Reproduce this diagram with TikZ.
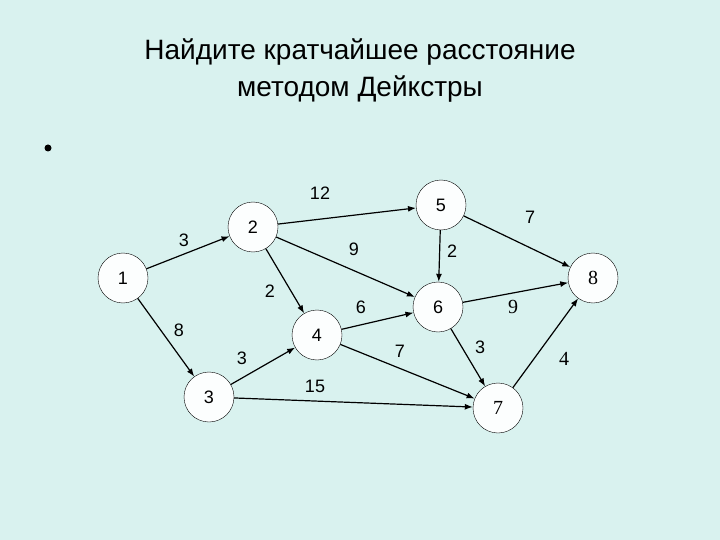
\documentclass[tikz,border=0pt]{standalone}
\usepackage{fontspec}
\setmainfont{Liberation Sans}
\newfontfamily\numserif{Liberation Serif}
\usetikzlibrary{arrows.meta}
\definecolor{slidebg}{RGB}{217,242,239}

\begin{document}
\begin{tikzpicture}[x=1pt,y=-1pt,
    vertex/.style={circle,draw,thin,fill=white!92!slidebg,minimum size=50pt,inner sep=0pt,font=\fontsize{18}{18}\selectfont},
    arc/.style={-{Latex[length=8pt,width=6pt]},line width=1.2pt},
    wlabel/.style={inner sep=0pt,font=\fontsize{18}{18}\selectfont},
    serifnum/.style={font=\fontsize{20}{20}\numserif}]
        \fill[slidebg] (0,0) rectangle (720,540);
        \node[font=\fontsize{28}{37}\selectfont,align=center] (title) at (360,71) {Найдите кратчайшее расстояние\\методом Дейкстры};
        \fill (48,148) circle (3.5pt);
        % vertices
        \node[vertex] (v1) at (123,278) {1};
        \node[vertex] (v2) at (253,227) {2};
        \node[vertex] (v3) at (209,397) {3};
        \node[vertex] (v4) at (317,335) {4};
        \node[vertex] (v5) at (441,205) {5};
        \node[vertex] (v6) at (438,307) {6};
        \node[vertex,serifnum] (v7) at (498,408) {7};
        \node[vertex,serifnum] (v8) at (593,278) {8};
        % arcs
        \draw[arc] (v1)--(v2);
        \draw[arc] (v1)--(v3);
        \draw[arc] (v2)--(v5);
        \draw[arc] (v2)--(v6);
        \draw[arc] (v2)--(v4);
        \draw[arc] (v3)--(v4);
        \draw[arc] (v3)--(v7);
        \draw[arc] (v4)--(v6);
        \draw[arc] (v4)--(v7);
        \draw[arc] (v5)--(v6);
        \draw[arc] (v5)--(v8);
        \draw[arc] (v6)--(v8);
        \draw[arc] (v6)--(v7);
        \draw[arc] (v7)--(v8);
        % weights
        \node[wlabel] (w12) at (184,240) {3};
        \node[wlabel] (w13) at (179,330) {8};
        \node[wlabel] (w25) at (320,193) {12};
        \node[wlabel] (w26) at (354,249) {9};
        \node[wlabel] (w24) at (270,291) {2};
        \node[wlabel] (w34) at (242,358) {3};
        \node[wlabel] (w37) at (315,386) {15};
        \node[wlabel] (w46) at (361,307) {6};
        \node[wlabel] (w47) at (400,351) {7};
        \node[wlabel] (w56) at (452,251) {2};
        \node[wlabel] (w58) at (530,217) {7};
        \node[wlabel,serifnum] (w68) at (513,307) {9};
        \node[wlabel] (w67) at (480,347) {3};
        \node[wlabel,serifnum] (w78) at (564,359) {4};
      \end{tikzpicture}
\end{document}
